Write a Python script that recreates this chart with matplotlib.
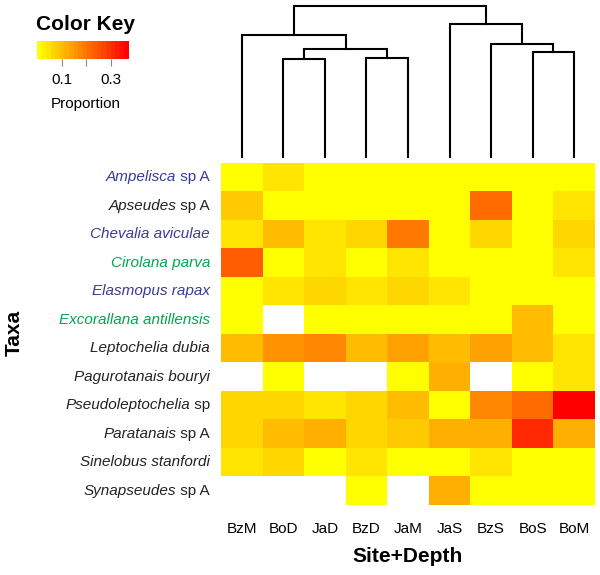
import numpy as np
import matplotlib
matplotlib.use("Agg")
import matplotlib.pyplot as plt
from matplotlib.colors import LinearSegmentedColormap, BoundaryNorm, ListedColormap
from matplotlib import transforms

plt.rcParams['font.family'] = ['Liberation Sans', 'DejaVu Sans']

# ---------------- data ----------------
sites = ["BzM", "BoD", "JaD", "BzD", "JaM", "JaS", "BzS", "BoS", "BoM"]
taxa_genus = ["Ampelisca", "Apseudes", "Chevalia aviculae", "Cirolana parva",
              "Elasmopus rapax", "Excorallana antillensis", "Leptochelia dubia",
              "Pagurotanais bouryi", "Pseudoleptochelia", "Paratanais",
              "Sinelobus stanfordi", "Synapseudes"]
taxa_suffix = [" sp A", " sp A", "", "", "", "", "", "", " sp", " sp A", "", " sp A"]
taxa_colors = ["#3a3a9c", "#222222", "#3a3a9c", "#00a651", "#3a3a9c", "#00a651",
               "#222222", "#222222", "#222222", "#222222", "#222222", "#222222"]

nan = np.nan
# proportions (rows = taxa, cols = sites); nan = absent (white)
ampelisca = [0.005, 0.047, 0.005, 0.005, 0.005, 0.005, 0.005, 0.005, 0.005]
apseudes = [0.084, 0.005, 0.005, 0.005, 0.005, 0.005, 0.214, 0.005, 0.047]
chevalia = [0.047, 0.102, 0.047, 0.065, 0.195, 0.005, 0.065, 0.005, 0.065]
cirolana = [0.232, 0.005, 0.047, 0.005, 0.047, 0.005, 0.005, 0.005, 0.047]
elasmopus = [0.005, 0.047, 0.065, 0.047, 0.065, 0.047, 0.005, 0.005, 0.005]
excorallana = [0.005, nan, 0.005, 0.005, 0.005, 0.005, 0.005, 0.102, 0.005]
leptochelia = [0.102, 0.158, 0.177, 0.102, 0.14, 0.102, 0.14, 0.102, 0.047]
pagurotanais = [nan, 0.005, nan, nan, 0.005, 0.121, nan, 0.005, 0.047]
pseudolepto = [0.065, 0.065, 0.047, 0.065, 0.102, 0.005, 0.177, 0.214, 0.37]
paratanais = [0.065, 0.102, 0.121, 0.065, 0.084, 0.121, 0.121, 0.307, 0.121]
sinelobus = [0.047, 0.065, 0.005, 0.047, 0.005, 0.005, 0.047, 0.005, 0.005]
synapseudes = [nan, nan, nan, 0.005, nan, 0.121, 0.005, 0.005, 0.005]

# dendrogram merges: (child_a, child_b, height); leaves 0..8 in column order
merges = [(1, 2, 97.7), (3, 4, 98.7), (9, 10, 107.7), (0, 11, 122.0),
          (7, 8, 104.7), (6, 13, 112.7), (5, 14, 133.0), (12, 15, 151.0)]

key_min, key_max, n_bins = 0.0, 0.372, 20
key_ticks = [0.1, 0.2, 0.3]
key_ticklabels = ["0.1", "", "0.3"]

# ---------------- figure ----------------
W, H = 600, 575
fig = plt.figure(figsize=(W / 100, H / 100), dpi=100)

def rect(x0, y0, x1, y1):
    return [x0 / W, 1 - y1 / H, (x1 - x0) / W, (y1 - y0) / H]

values = np.ma.masked_invalid(np.array([ampelisca, apseudes, chevalia, cirolana,
                                        elasmopus, excorallana, leptochelia,
                                        pagurotanais, pseudolepto, paratanais,
                                        sinelobus, synapseudes]))

base = LinearSegmentedColormap.from_list("yr", ["#ffff00", "#ff0000"])
bounds = np.linspace(key_min, key_max, n_bins + 1)
cmap = ListedColormap([base(i / (n_bins - 1)) for i in range(n_bins)])
cmap.set_bad("white")
norm = BoundaryNorm(bounds, cmap.N)

# heatmap
ax = fig.add_axes(rect(221, 163, 595, 505))
ax.imshow(values, cmap=cmap, norm=norm, aspect="auto", interpolation="nearest")
for s in ax.spines.values():
    s.set_visible(False)
ax.set_xticks(range(len(sites)))
ax.set_xticklabels(sites, fontsize=11)
ax.tick_params(axis="x", length=0, pad=12)
ax.set_yticks([])

# row labels
trans = transforms.blended_transform_factory(fig.transFigure, ax.transData)
for i, (g, suf, c) in enumerate(zip(taxa_genus, taxa_suffix, taxa_colors)):
    if suf:
        t = ax.text(210 / W, i, suf, transform=trans, ha="right", va="center",
                    fontsize=11, color=c)
        ax.annotate(g, xy=(0, 0.5), xycoords=t, ha="right", va="center",
                    fontsize=11, color=c, style="italic")
    else:
        ax.text(210 / W, i, g, transform=trans, ha="right", va="center",
                fontsize=11, color=c, style="italic")

fig.text(0.5 * (221 + 595) / W, 1 - 557 / H, "Site+Depth",
         ha="center", va="center", fontsize=15, fontweight="bold")
fig.text(14 / W, 1 - 333 / H, "Taxa", ha="center", va="center", fontsize=15,
         fontweight="bold", rotation=90)

# dendrogram
axd = fig.add_axes(rect(221, 6, 595, 157))
axd.set_xlim(-0.5, len(sites) - 0.5)
axd.set_ylim(0, merges[-1][2])
axd.axis("off")
pos = {i: (float(i), 0.0) for i in range(len(sites))}
nid = len(sites)
for a, b, h in merges:
    xa, ha_ = pos[a]
    xb, hb = pos[b]
    axd.plot([xa, xa, xb, xb], [ha_, h, h, hb], color="black", lw=1.5,
             solid_joinstyle="miter", clip_on=False)
    pos[nid] = ((xa + xb) / 2, h)
    nid += 1

# color key
axk = fig.add_axes(rect(36.7, 40.7, 129, 59))
axk.pcolormesh(bounds, [0, 1], (bounds[:-1] + np.diff(bounds) / 2)[None, :],
               cmap=cmap, norm=norm)
axk.set_xlim(key_min, key_max)
axk.set_ylim(0, 1)
axk.set_yticks([])
axk.set_xticks(key_ticks)
axk.set_xticklabels(key_ticklabels, fontsize=11)
axk.tick_params(axis="x", length=5, width=0.8, color="#888888", pad=5)
for s in axk.spines.values():
    s.set_visible(False)
fig.text(86 / W, 1 - 24 / H, "Color Key", ha="center", va="center",
         fontsize=15, fontweight="bold")
fig.text(86 / W, 1 - 104 / H, "Proportion", ha="center", va="center", fontsize=11)

fig.savefig("out.png", dpi=100)
